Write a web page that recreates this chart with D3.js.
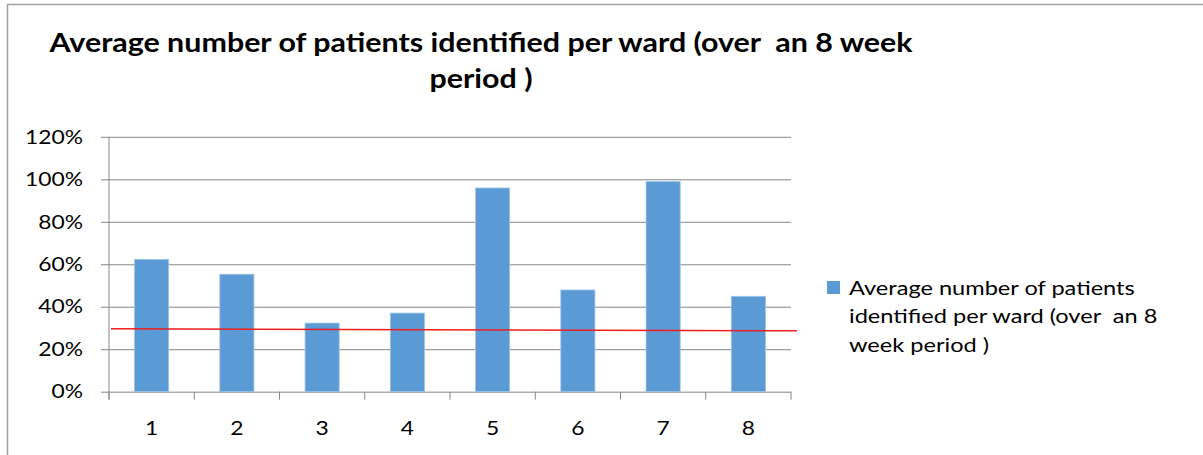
<!DOCTYPE html>
<html>
<head>
<meta charset="utf-8">
<script src="https://cdn.jsdelivr.net/npm/d3@7"></script>
<style>
  html, body { margin: 0; padding: 0; background: #fff; }
</style>
</head>
<body>
<div id="chart"></div>
<script>
// chart values
const wards = ['1', '2', '3', '4', '5', '6', '7', '8'];
const averagePct = [62.3, 55.3, 32.3, 37.0, 95.9, 47.9, 98.9, 44.9];
const yTicks = [0, 20, 40, 60, 80, 100, 120];
const redLinePct = [29.6, 28.7]; // start and end of the red reference line
const titleLines = ['Average number of patients identified per ward (over  an 8 week', 'period )'];
const legendLines = ['Average number of patients', 'identified per ward (over  an 8', 'week period )'];

class Chart {
    constructor() {
        const attrs = {
            container: '#chart',
            svgWidth: 1203,
            svgHeight: 455,
            plotLeft: 109,
            plotRight: 791,
            plotTop: 136.8,
            plotBottom: 391.7,
            font: 'Lato',
            stretch: 1.17, // the original picture is a bit wider than tall
            colors: { bar: '#5b9bd5', barEdge: '#9dc3e6', grid: '#868686', red: '#f01e1e', text: '#000', frame: '#a0a0a0' }
        };
        this.getState = () => attrs;
        this.setState = (d) => Object.assign(attrs, d);
    }

    render() {
        this.drawSvg();
        this.drawFrame();
        this.drawAxes();
        this.drawBars();
        this.drawLegend();
        this.drawTitle();
        return this;
    }

    drawSvg() {
        const { container, svgWidth, svgHeight, font, plotLeft, plotRight, plotTop, plotBottom } = this.getState();
        const svg = d3.select(container).append('svg')
            .attr('width', svgWidth)
            .attr('height', svgHeight)
            .attr('font-family', font)
            .style('display', 'block');

        const x = d3.scaleBand()
            .domain(wards)
            .range([plotLeft, plotRight])
            .paddingInner(0.6)
            .paddingOuter(0.3);
        const y = d3.scaleLinear()
            .domain([0, 120])
            .range([plotBottom, plotTop]);

        this.setState({ svg, x, y });
    }

    drawFrame() {
        const { svg, colors, svgWidth, svgHeight } = this.getState();
        svg.append('path')
            .attr('d', `M7.5 ${svgHeight} V4.5 H${svgWidth}`)
            .attr('fill', 'none')
            .attr('stroke', colors.frame)
            .attr('stroke-width', 1.5);
    }

    drawAxes() {
        const { svg, x, y, colors, plotLeft, plotRight, plotBottom, stretch } = this.getState();
        const pad = 26;

        const yAxis = d3.axisLeft(y)
            .tickValues(yTicks)
            .tickFormat(d => d + '%')
            .tickSize(-(plotRight - plotLeft))
            .tickPadding(pad);
        const yG = svg.append('g')
            .attr('class', 'y-axis')
            .attr('transform', `translate(${plotLeft},0)`)
            .call(yAxis);
        yG.select('.domain').remove();
        yG.selectAll('.tick line').attr('stroke', colors.grid).attr('x1', -8);
        yG.selectAll('text')
            .attr('font-size', 19.5)
            .attr('fill', colors.text)
            .attr('font-family', 'Lato')
            .attr('x', -pad / stretch)
            .attr('transform', `scale(${stretch},1)`);

        // vertical axis line
        svg.append('line')
            .attr('x1', plotLeft).attr('x2', plotLeft)
            .attr('y1', y(120)).attr('y2', plotBottom + 8)
            .attr('stroke', colors.grid);

        // category ticks at band boundaries
        const step = x.step();
        const bounds = d3.range(wards.length + 1).map(i => plotLeft + i * step);
        svg.append('g').selectAll('line')
            .data(bounds)
            .join('line')
            .attr('x1', d => d).attr('x2', d => d)
            .attr('y1', plotBottom).attr('y2', plotBottom + 8)
            .attr('stroke', colors.grid);

        svg.append('g').attr('class', 'x-labels')
            .selectAll('text')
            .data(wards)
            .join('text')
            .attr('transform', d => `translate(${x(d) + x.bandwidth() / 2},435) scale(${stretch},1)`)
            .attr('text-anchor', 'middle')
            .attr('font-size', 19.5)
            .attr('fill', colors.text)
            .text(d => d);
    }

    drawBars() {
        const { svg, x, y, colors, plotLeft, plotRight } = this.getState();
        svg.append('g').attr('class', 'bars')
            .selectAll('rect')
            .data(wards.map((w, i) => ({ w, v: averagePct[i] })))
            .join('rect')
            .attr('x', d => x(d.w))
            .attr('width', x.bandwidth())
            .attr('y', d => y(d.v))
            .attr('height', d => y(0) - y(d.v))
            .attr('fill', colors.bar)
            .attr('stroke', colors.barEdge)
            .attr('stroke-width', 0.8);

        // red reference line, drawn slightly past the plot area like the original
        const lx = d3.scaleLinear().domain([0, 1]).range([plotLeft + 2, plotRight + 6]);
        svg.append('line')
            .attr('x1', lx(0)).attr('y1', y(redLinePct[0]))
            .attr('x2', lx(1)).attr('y2', y(redLinePct[1]))
            .attr('stroke', colors.red)
            .attr('stroke-width', 1.5);
    }

    drawLegend() {
        const { svg, colors } = this.getState();
        const g = svg.append('g').attr('class', 'legend');
        g.append('rect')
            .attr('x', 827).attr('y', 281)
            .attr('width', 13).attr('height', 13)
            .attr('fill', colors.bar);
        g.append('text')
            .attr('transform', 'translate(849,0) scale(1.21,1)')
            .attr('font-size', 19.5)
            .attr('fill', colors.text)
            .style('white-space', 'pre')
            .selectAll('tspan')
            .data(legendLines)
            .join('tspan')
            .attr('x', 0)
            .attr('y', (d, i) => 295 + i * 28.3)
            .text(d => d);
    }

    drawTitle() {
        const { svg, colors, stretch } = this.getState();
        svg.append('text')
            .attr('class', 'title')
            .attr('transform', `translate(481,0) scale(${stretch},1)`)
            .attr('text-anchor', 'middle')
            .attr('font-size', 26)
            .attr('font-weight', 'bold')
            .attr('fill', colors.text)
            .style('white-space', 'pre')
            .selectAll('tspan')
            .data(titleLines)
            .join('tspan')
            .attr('x', 0)
            .attr('y', (d, i) => 52 + i * 36)
            .text(d => d);
    }
}

new Chart().render();
</script>
</body>
</html>
